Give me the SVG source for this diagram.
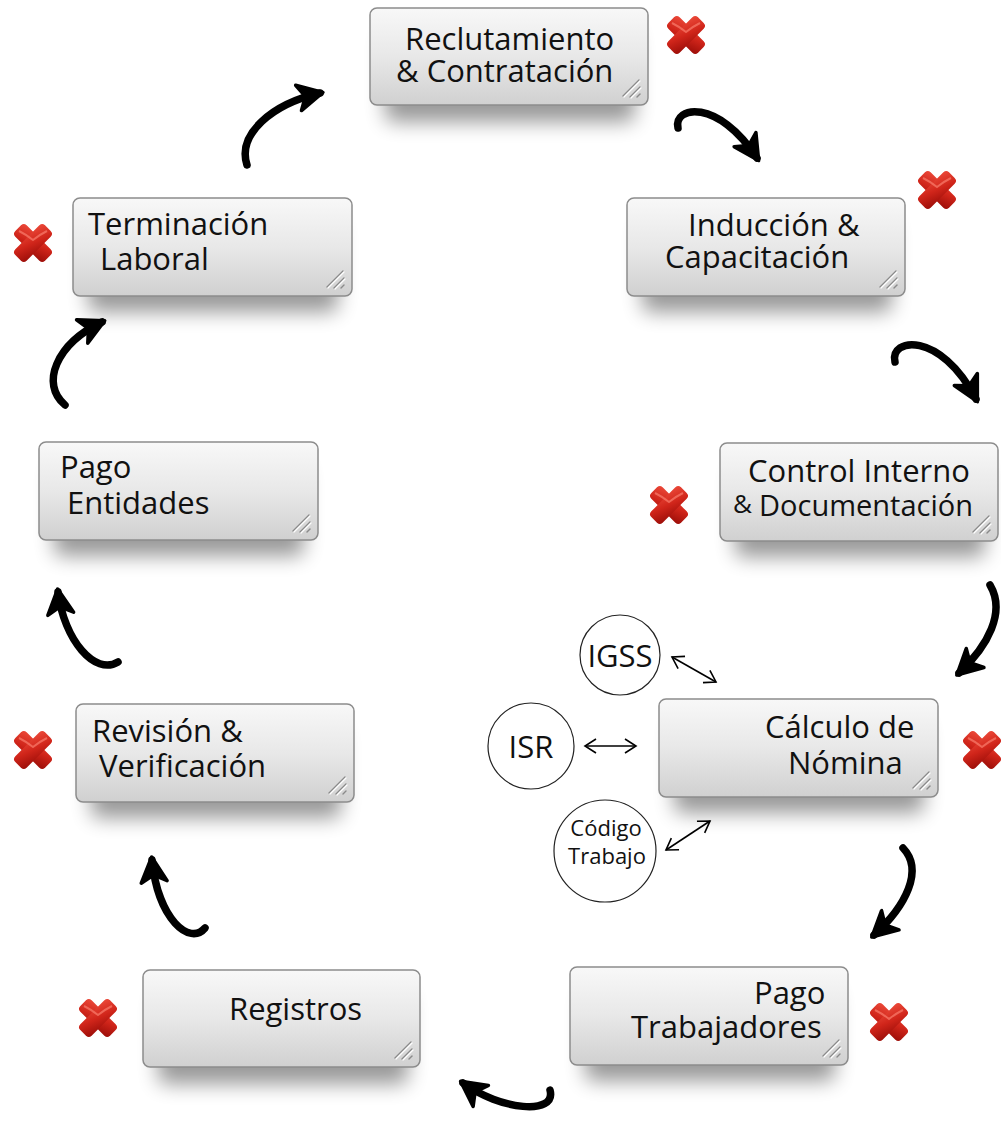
<svg xmlns="http://www.w3.org/2000/svg" xmlns:xlink="http://www.w3.org/1999/xlink" width="1001" height="1124" viewBox="0 0 1001 1124">
<style>
.box{fill:url(#boxg);stroke:#8c8c8c;stroke-width:1.5}
.sh{fill:#000;opacity:0.4;filter:url(#blur)}
.t{font-family:"Open Sans","Liberation Sans",sans-serif;font-size:31px;fill:#111}
.ts{font-family:"Open Sans","Liberation Sans",sans-serif;font-size:22px;fill:#111}
.grip{stroke:#8a8a8a;stroke-width:1.4;stroke-linecap:round}
.gripw{stroke:#fff;stroke-width:1.2;stroke-linecap:round}
.flow{fill:none;stroke:#000;stroke-width:7.5;stroke-linecap:round;marker-end:url(#ah)}
.thin{fill:none;stroke:#000;stroke-width:1.6;marker-start:url(#oh);marker-end:url(#oh)}
.circ{fill:#fff;stroke:#222;stroke-width:1.2}
</style>
<defs>
<linearGradient id="boxg" x1="0" y1="0" x2="0" y2="1">
<stop offset="0" stop-color="#f8f8f8"/>
<stop offset="0.5" stop-color="#e8e8e8"/>
<stop offset="1" stop-color="#d0d0d0"/>
</linearGradient>
<linearGradient id="redg" x1="0" y1="0" x2="1" y2="1">
<stop offset="0" stop-color="#ec4a3a"/>
<stop offset="0.5" stop-color="#d0251a"/>
<stop offset="1" stop-color="#9a0d08"/>
</linearGradient>
<filter id="blur" x="-20%" y="-40%" width="140%" height="180%"><feGaussianBlur stdDeviation="10"/></filter>
<marker id="ah" markerUnits="userSpaceOnUse" viewBox="-26 -16 32 32" markerWidth="32" markerHeight="32" refX="0" refY="0" orient="auto">
<path d="M3,0 L-22,-13 L-15,0 L-22,13 Z" fill="#000" stroke="#000" stroke-width="3.5" stroke-linejoin="round"/>
</marker>
<marker id="oh" markerUnits="userSpaceOnUse" viewBox="-14 -10 18 20" markerWidth="18" markerHeight="20" refX="0" refY="0" orient="auto-start-reverse">
<path d="M-11,-7 L0,0 L-11,7" fill="none" stroke="#000" stroke-width="1.6"/>
</marker>
<g id="xm">
<g transform="rotate(45)">
<rect x="-21" y="-8" width="42" height="16" rx="4" fill="url(#redg)"/>
<rect x="-8" y="-21" width="16" height="42" rx="4" fill="url(#redg)"/>
</g>
<path d="M-14,-12 Q-6,-8 0,-3 Q6,-8 14,-12" fill="none" stroke="#ff8a7a" stroke-width="2" opacity="0.6"/>
</g>
<g id="grip">
<line x1="-9" y1="-25" x2="-25" y2="-9" class="grip"/>
<line x1="-8" y1="-24" x2="-24" y2="-8" class="gripw"/>
<line x1="-8" y1="-18" x2="-18" y2="-8" class="grip"/>
<line x1="-7" y1="-17" x2="-17" y2="-7" class="gripw"/>
<line x1="-8" y1="-11" x2="-11" y2="-8" class="grip"/>
</g>
</defs>
<rect width="1001" height="1124" fill="#fff"/>

<g id="connectors">
<path class="flow" d="M678,128 C673,106 718,98 757,158"/>
<path class="flow" d="M895,362 C889,338 940,330 976,399"/>
<path class="flow" d="M990,585 C1006,612 988,646 959,673"/>
<path class="flow" d="M903,848 C924,870 906,906 874,935"/>
<path class="flow" d="M550,1090 C557,1116 500,1110 463,1083"/>
<path class="flow" d="M205,928 C190,946 158,920 152,860"/>
<path class="flow" d="M118,662 C95,676 64,640 58,592"/>
<path class="flow" d="M65,405 C40,384 56,344 102,322"/>
<path class="flow" d="M247,165 C237,134 272,104 320,93"/>
<path class="thin" d="M672,657 L716,682"/>
<path class="thin" d="M585,746 L636,746"/>
<path class="thin" d="M666,850 L710,821"/>
</g>

<g id="n1">
<rect class="sh" x="385" y="32" width="250" height="90" rx="8"/>
<rect class="box" x="370" y="8" width="278" height="97" rx="7"/>
<use href="#grip" x="648" y="105"/>
<text class="t" x="405" y="50">Reclutamiento</text>
<text class="t" x="396" y="82">&amp; Contratación</text>
<use href="#xm" x="686" y="35"/>
</g>

<g id="n2">
<rect class="sh" x="642" y="222" width="250" height="90" rx="8"/>
<rect class="box" x="627" y="198" width="278" height="98" rx="7"/>
<use href="#grip" x="905" y="296"/>
<text class="t" x="688" y="236">Inducción &amp;</text>
<text class="t" x="665" y="268">Capacitación</text>
<use href="#xm" x="937" y="190"/>
</g>

<g id="n3">
<rect class="sh" x="735" y="467" width="250" height="90" rx="8"/>
<rect class="box" x="720" y="443" width="278" height="98" rx="7"/>
<use href="#grip" x="998" y="541"/>
<text class="t" x="748" y="482">Control Interno</text>
<text class="t" x="733" y="513" style="font-size:26px">&amp;</text>
<text class="t" x="759" y="516" style="font-size:29px">Documentación</text>
<use href="#xm" x="669" y="505"/>
</g>

<g id="n4">
<rect class="sh" x="674" y="723" width="250" height="90" rx="8"/>
<rect class="box" x="659" y="699" width="279" height="98" rx="7"/>
<use href="#grip" x="938" y="797"/>
<text class="t" x="765" y="738">Cálculo de</text>
<text class="t" x="788" y="774">Nómina</text>
<use href="#xm" x="982" y="750"/>
</g>

<g id="n5">
<rect class="sh" x="585" y="991" width="250" height="90" rx="8"/>
<rect class="box" x="570" y="967" width="278" height="98" rx="7"/>
<use href="#grip" x="848" y="1065"/>
<text class="t" x="754" y="1004">Pago</text>
<text class="t" x="631" y="1038">Trabajadores</text>
<use href="#xm" x="889" y="1022"/>
</g>

<g id="n6">
<rect class="sh" x="158" y="994" width="250" height="90" rx="8"/>
<rect class="box" x="143" y="970" width="277" height="97" rx="7"/>
<use href="#grip" x="420" y="1067"/>
<text class="t" x="229" y="1020">Registros</text>
<use href="#xm" x="98" y="1018"/>
</g>

<g id="n7">
<rect class="sh" x="91" y="728" width="250" height="90" rx="8"/>
<rect class="box" x="76" y="704" width="278" height="98" rx="7"/>
<use href="#grip" x="354" y="802"/>
<text class="t" x="92" y="742">Revisión &amp;</text>
<text class="t" x="99" y="777">Verificación</text>
<use href="#xm" x="33" y="750"/>
</g>

<g id="n8">
<rect class="sh" x="54" y="466" width="250" height="90" rx="8"/>
<rect class="box" x="39" y="442" width="279" height="98" rx="7"/>
<use href="#grip" x="318" y="540"/>
<text class="t" x="60" y="478">Pago</text>
<text class="t" x="67" y="514">Entidades</text>
</g>

<g id="n9">
<rect class="sh" x="88" y="222" width="250" height="90" rx="8"/>
<rect class="box" x="73" y="198" width="279" height="98" rx="7"/>
<use href="#grip" x="352" y="296"/>
<text class="t" x="88" y="235">Terminación</text>
<text class="t" x="100" y="270">Laboral</text>
<use href="#xm" x="33" y="243"/>
</g>

<g id="c1">
<circle class="circ" cx="620" cy="655" r="40"/>
<text class="t" x="620" y="667" text-anchor="middle">IGSS</text>
</g>
<g id="c2">
<circle class="circ" cx="531" cy="746" r="43"/>
<text class="t" x="531" y="758" text-anchor="middle">ISR</text>
</g>
<g id="c3">
<circle class="circ" cx="605" cy="851" r="51"/>
<text class="ts" x="606" y="836" text-anchor="middle">Código</text>
<text class="ts" x="607" y="864" text-anchor="middle">Trabajo</text>
</g>
</svg>
